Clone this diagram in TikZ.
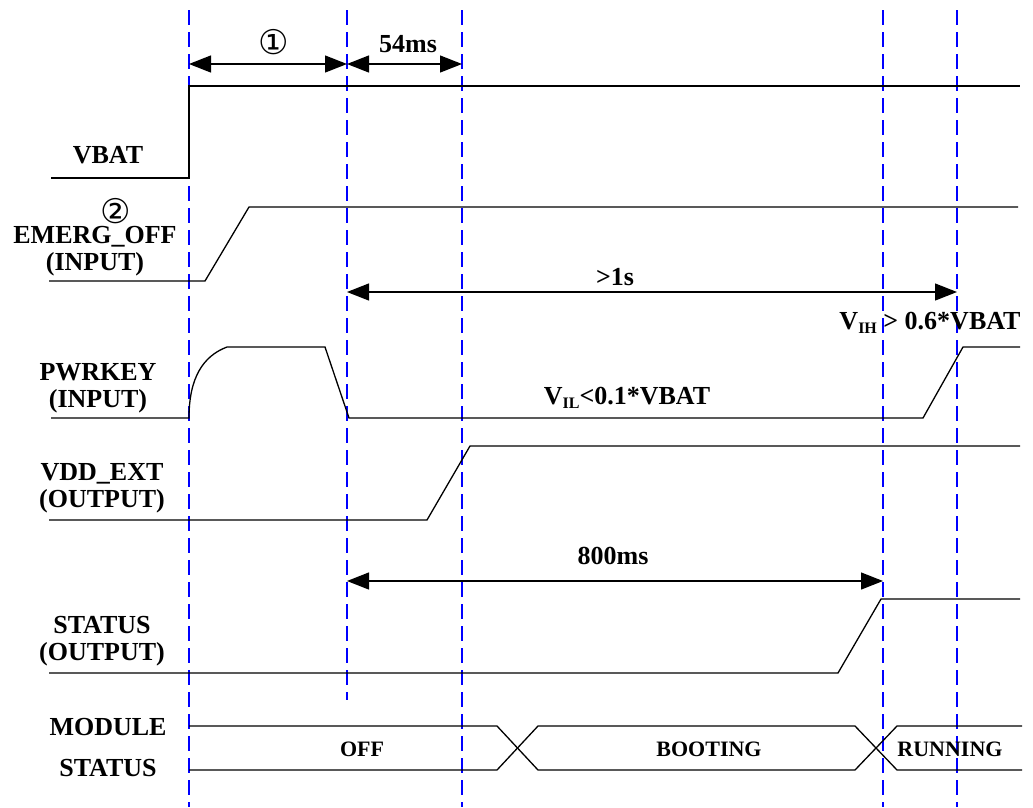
\documentclass[tikz,border=0pt]{standalone}
\usepackage{fontspec}
\setmainfont{Liberation Serif}
\newfontfamily\circfont{DejaVu Sans}
\usetikzlibrary{arrows.meta, positioning, calc}
\tikzset{
  sig/.style={line width=1.3pt, black, line join=miter},
  guide/.style={draw=blue, line width=2.2pt, dash pattern=on 15pt off 7pt},
  dim/.style={{Triangle[length=22pt,width=17pt]}-{Triangle[length=22pt,width=17pt]}, line width=1.3pt},
  lbl/.style={font=\fontsize{26}{27}\selectfont\bfseries, align=center, inner sep=0pt},
  st/.style={font=\fontsize{22}{24}\selectfont\bfseries, inner sep=0pt},
  circ/.style={font=\circfont\fontsize{34}{34}\selectfont, inner sep=0pt},
}
\newcommand{\sublo}[1]{\raisebox{-0.35ex}{\fontsize{16}{16}\selectfont #1}}

\begin{document}
\begin{tikzpicture}[x=1pt, y=-1pt]
  \useasboundingbox (0,0) rectangle (1033,807);

  % vertical markers
  \foreach \n/\x/\b in {g1/189/807, g2/347/700, g3/462/807, g4/883/807, g5/957/807} {
    \coordinate (\n) at (\x,10);
    \draw[guide] (\n) -- (\x,\b);
  }

  % time spans
  \coordinate (t1) at (g1 |- 0,64);
  \coordinate (t2) at (g2 |- 0,64);
  \coordinate (t3) at (g3 |- 0,64);
  \draw[dim] (t1) -- (t2);
  \draw[dim] (t2) -- (t3);
  \node[circ] (n1) at (274,42) {①};
  \node[lbl] (d54) at (408,44) {54ms};

  \coordinate (s1) at (g2 |- 0,292);
  \coordinate (s2) at (g5 |- 0,292);
  \draw[dim] (s1) -- (s2);
  \node[lbl] (d1s) at (615,277) {>1s};

  \coordinate (b1) at (g2 |- 0,581);
  \coordinate (b2) at (g4 |- 0,581);
  \draw[dim] (b1) -- (b2);
  \node[lbl] (d800) at (613,556) {800ms};

  % signals
  \draw[sig] (51,178) -- (189,178) -- (189,86) -- (1020,86);
  \draw[sig] (49,281) -- (205,281) -- (249,207) -- (1018,207);
  \draw[sig] (51,418) -- (189,418) .. controls (189,378) and (203,356) .. (227,347)
    -- (325,347) -- (349,418) -- (923,418) -- (963,347) -- (1020,347);
  \draw[sig] (49,520) -- (427,520) -- (470,446) -- (1020,446);
  \draw[sig] (49,673) -- (838,673) -- (881,599) -- (1020,599);

  % module state bus
  \draw[sig] (189,726) -- (497,726) -- (538,770) -- (855,770) -- (897,726) -- (1022,726);
  \draw[sig] (189,770) -- (497,770) -- (538,726) -- (855,726) -- (897,770) -- (1022,770);
  \node[st] (off) at (362,749) {OFF};
  \node[st] (boot) at (709,749) {BOOTING};
  \node[st] (run) at (950,749) {RUNNING};

  % signal names
  \node[lbl] (vbat) at (108,155) {VBAT};
  \node[circ] (n2) at (116,211) {②};
  \node[lbl] (emerg) at (95,251) {EMERG\_OFF\\(INPUT)};
  \node[lbl] (pwr) at (98,388) {PWRKEY\\(INPUT)};
  \node[lbl] (vdd) at (102,488) {VDD\_EXT\\(OUTPUT)};
  \node[lbl] (stat) at (102,641) {STATUS\\(OUTPUT)};
  \node[lbl] (mod) at (108,727) {MODULE};
  \node[lbl] (mod2) at (108,768) {STATUS};

  % levels
  \node[lbl] (vil) at (627,398) {V\sublo{IL}<0.1*VBAT};
  \node[lbl] (vih) at (930,323) {V\sublo{IH} > 0.6*VBAT};
\end{tikzpicture}
\end{document}
